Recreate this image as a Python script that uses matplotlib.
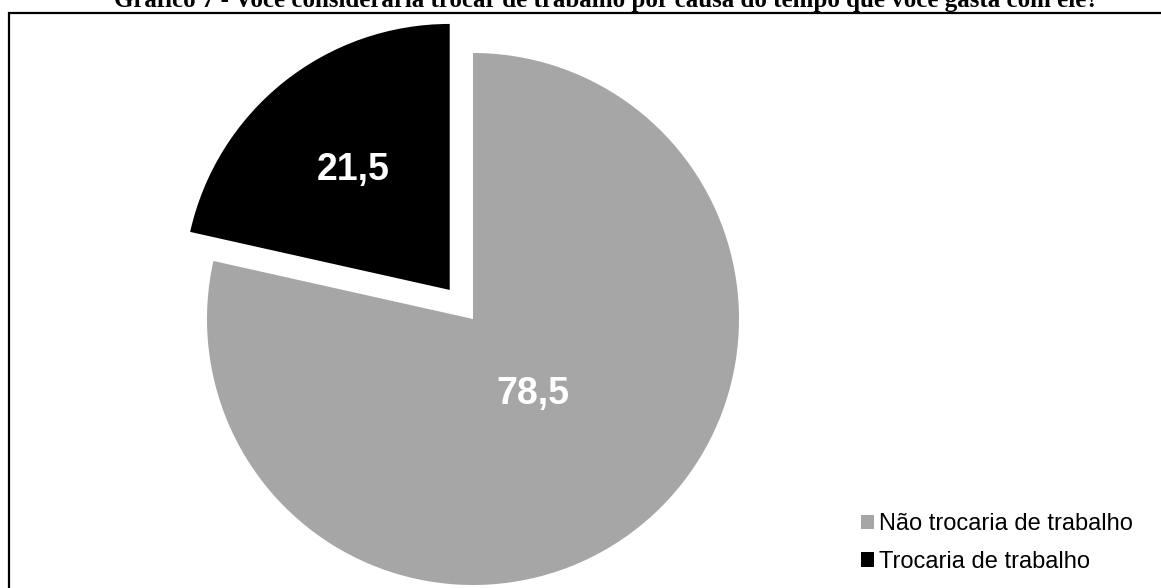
import numpy as np
import matplotlib.pyplot as plt
from matplotlib.patches import Rectangle

# dados da pergunta 7
categorias = ['Não trocaria de trabalho', 'Trocaria de trabalho']
valores = [78.5, 21.5]
rotulos = ['78,5', '21,5']
cores = ['#a6a6a6', '#000000']
titulo = 'Gráfico 7 - Você consideraria trocar de trabalho por causa do tempo que você gasta com ele?'

W, H = 1161, 588
fig = plt.figure(figsize=(W / 100, H / 100), dpi=100)

# centro e raio da pizza em pixels
cx, cy, R = 473, 319, 266
lim = 1.2
lado = 2 * R * lim
ax = fig.add_axes([(cx - lado / 2) / W, (H - cy - lado / 2) / H, lado / W, lado / H])

explode = [0, 0.14]
wedges, _ = ax.pie(valores, colors=cores, startangle=90, counterclock=False,
                   explode=explode, radius=1, wedgeprops=dict(linewidth=0))
ax.set_xlim(-lim, lim)
ax.set_ylim(-lim, lim)
ax.set_aspect('equal')
ax.axis('off')

# rotulos dentro das fatias
dist = [0.36, 0.58]
for w, txt, d, e in zip(wedges, rotulos, dist, explode):
    ang = np.deg2rad((w.theta1 + w.theta2) / 2)
    x = (d + e) * np.cos(ang)
    y = (d + e) * np.sin(ang)
    ax.text(x, y, txt, ha='center', va='center', color='white',
            fontsize=27, fontweight='bold', family='Liberation Sans')

# moldura
fig.patches.append(Rectangle((9 / W, -0.1), 1.2, (H - 13) / H + 0.1,
                             transform=fig.transFigure, fill=False,
                             edgecolor='black', linewidth=1.6))

fig.text(606 / W, 1 - 7 / H, titulo, ha='center', va='baseline',
         fontsize=18, fontweight='bold', family='Liberation Serif')

fig.legend(wedges, categorias, loc='center left',
           bbox_to_anchor=(849 / W, 1 - 543 / H), frameon=False,
           prop=dict(family='Liberation Sans', size=17),
           handlelength=0.55, handleheight=0.55, handletextpad=0.2,
           labelspacing=0.66, borderpad=0)

fig.savefig('out.png', dpi=100)
